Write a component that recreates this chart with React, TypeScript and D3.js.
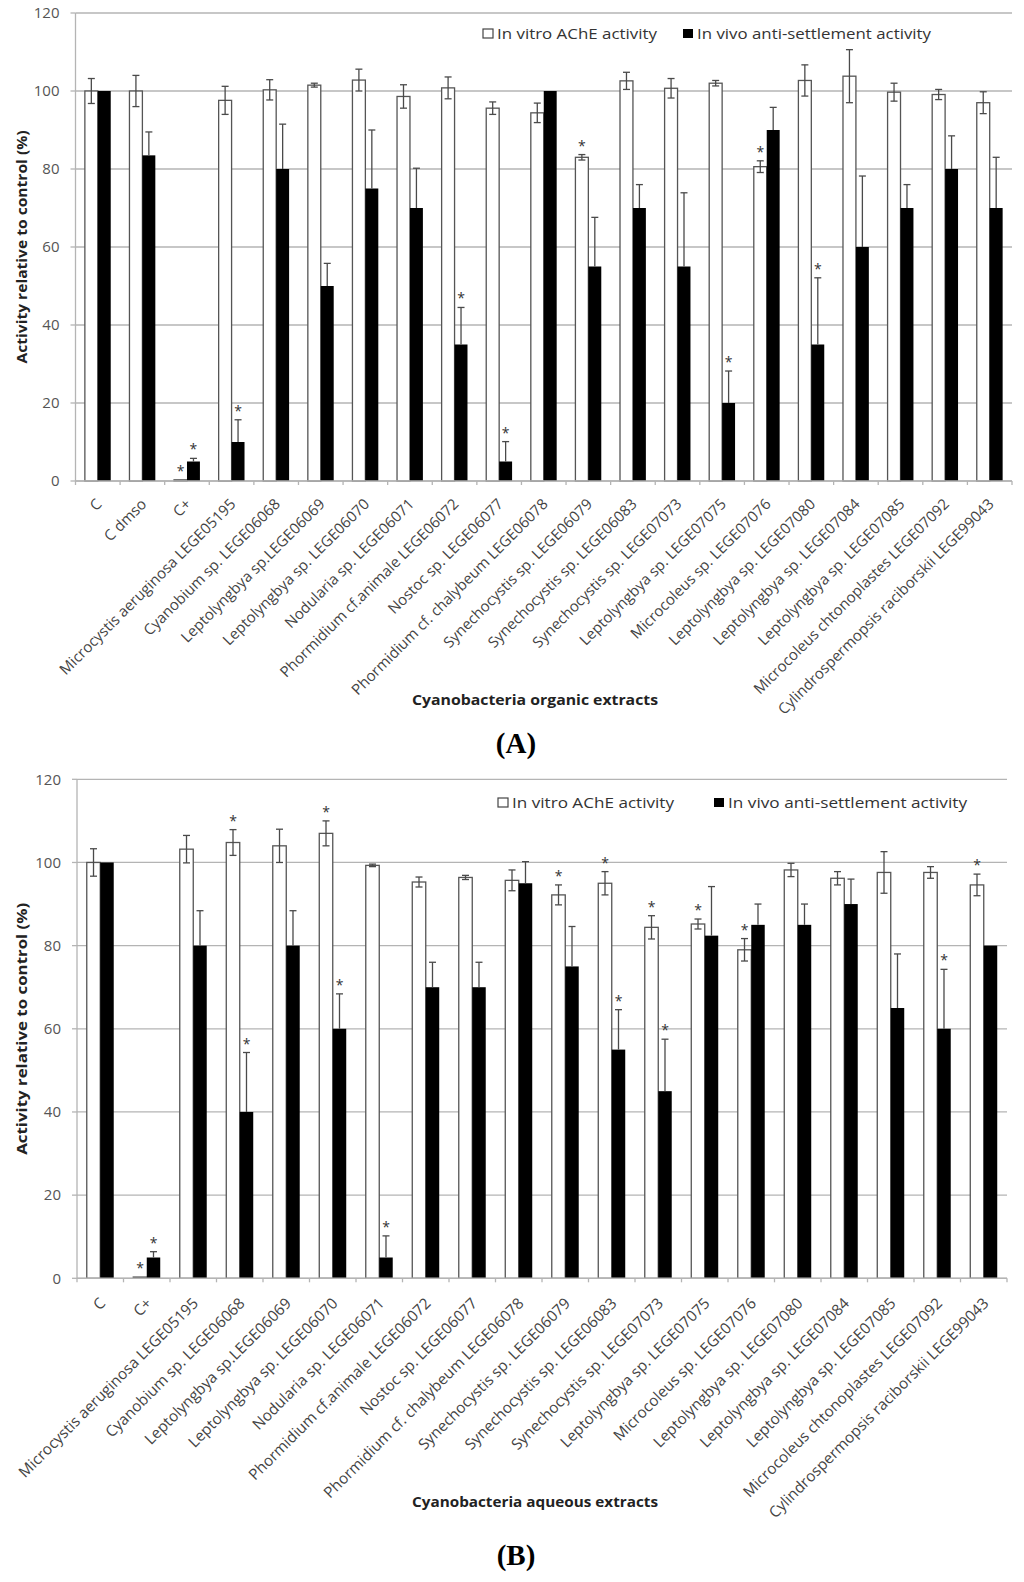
import React from "react";
import * as d3 from "d3";

// ---------- Data: panel A (organic extracts) ----------
const categoriesA = [
  "C", "C dmso", "C+",
  "Microcystis aeruginosa LEGE05195", "Cyanobium sp. LEGE06068", "Leptolyngbya sp.LEGE06069",
  "Leptolyngbya sp. LEGE06070", "Nodularia sp. LEGE06071", "Phormidium cf.animale LEGE06072",
  "Nostoc sp. LEGE06077", "Phormidium cf. chalybeum LEGE06078", "Synechocystis sp. LEGE06079",
  "Synechocystis sp. LEGE06083", "Synechocystis sp. LEGE07073", "Leptolyngbya sp. LEGE07075",
  "Microcoleus sp. LEGE07076", "Leptolyngbya sp. LEGE07080", "Leptolyngbya sp. LEGE07084",
  "Leptolyngbya sp. LEGE07085", "Microcoleus chtonoplastes LEGE07092", "Cylindrospermopsis raciborskii LEGE99043",
];
const vitroA = [100, 100, 0.3, 97.6, 100.3, 101.5, 102.8, 98.6, 100.8, 95.6, 94.4, 83, 102.6, 100.7, 102, 80.6, 102.7, 103.8, 99.7, 99.1, 97];
const vitroErrA = [3.2, 4, 0, 3.6, 2.6, 0.5, 2.8, 3.0, 2.8, 1.6, 2.5, 0.7, 2.2, 2.5, 0.7, 1.5, 4, 6.8, 2.3, 1.3, 2.8];
const vivoA = [100, 83.5, 5, 10, 80, 50, 75, 70, 35, 5, 100, 55, 70, 55, 20, 90, 35, 60, 70, 80, 70];
const vivoErrA = [0, 6, 0.8, 5.7, 11.5, 5.8, 15, 10.2, 9.5, 5.1, 0, 12.6, 6, 18.9, 8.2, 5.8, 17.1, 18.2, 6, 8.5, 13];
const sigVitroA = [2, 11, 15];
const sigVivoA = [2, 3, 8, 9, 14, 16];

// ---------- Data: panel B (aqueous extracts) ----------
const categoriesB = [
  "C", "C+",
  "Microcystis aeruginosa LEGE05195", "Cyanobium sp. LEGE06068", "Leptolyngbya sp.LEGE06069",
  "Leptolyngbya sp. LEGE06070", "Nodularia sp. LEGE06071", "Phormidium cf.animale LEGE06072",
  "Nostoc sp. LEGE06077", "Phormidium cf. chalybeum LEGE06078", "Synechocystis sp. LEGE06079",
  "Synechocystis sp. LEGE06083", "Synechocystis sp. LEGE07073", "Leptolyngbya sp. LEGE07075",
  "Microcoleus sp. LEGE07076", "Leptolyngbya sp. LEGE07080", "Leptolyngbya sp. LEGE07084",
  "Leptolyngbya sp. LEGE07085", "Microcoleus chtonoplastes LEGE07092", "Cylindrospermopsis raciborskii LEGE99043",
];
const vitroB = [100, 0.3, 103.2, 104.8, 104, 107, 99.3, 95.3, 96.4, 95.7, 92.2, 95, 84.4, 85.2, 79, 98.2, 96.2, 97.6, 97.6, 94.6];
const vitroErrB = [3.3, 0, 3.3, 3.1, 4, 3, 0.3, 1.2, 0.5, 2.5, 2.4, 2.8, 2.8, 1.2, 2.7, 1.6, 1.6, 5, 1.4, 2.6];
const vivoB = [100, 5, 80, 40, 80, 60, 5, 70, 70, 95, 75, 55, 45, 82.4, 85, 85, 90, 65, 60, 80];
const vivoErrB = [0, 1.4, 8.4, 14.3, 8.4, 8.4, 5.2, 6, 6, 5.2, 9.6, 9.6, 12.5, 11.8, 5, 5, 6, 13, 14.3, 0];
const sigVitroB = [1, 3, 5, 10, 11, 12, 13, 14, 19];
const sigVivoB = [1, 3, 5, 6, 11, 12, 18];

const yTicks = [0, 20, 40, 60, 80, 100, 120];
const seriesKeys = ["vitro", "vivo"];
const legendLabels = ["In vitro AChE activity", "In vivo anti-settlement activity"];

const FONT = "'Open Sans', 'DejaVu Sans', sans-serif";
const GRID = "#b4b4b4";
const ERR = "#4a4a4a";

type PanelProps = {
  cats: string[];
  vitro: number[];
  vitroErr: number[];
  vivo: number[];
  vivoErr: number[];
  sigVitro: number[];
  sigVivo: number[];
  x0: number;
  x1: number;
  y0: number;
  yTop: number;
  labelFont: number;
  labelDx: number;
  labelDy: number;
  xTitle: string;
  xTitleY: number;
  yTitleLen: number;
  panelLabel: string;
  panelLabelY: number;
  legendY: number;
  legendX: number[];
  legendLen: number[];
};

function Panel(p: PanelProps) {
  const y = d3.scaleLinear().domain([0, 120]).range([p.y0, p.yTop]);
  const x = d3.scaleBand<string>().domain(p.cats).range([p.x0, p.x1]).paddingInner(0.42).paddingOuter(0.21);
  const xs = d3.scaleBand<string>().domain(seriesKeys).range([0, x.bandwidth()]);
  const step = x.step();
  const bw = xs.bandwidth();
  const cap = 3.5;
  const yMid = (p.y0 + p.yTop) / 2;
  const boundaries = d3.range(p.cats.length + 1).map((i) => p.x0 + i * step);

  const errBar = (cx: number, v: number, e: number, both: boolean, key: string) => {
    if (e <= 0) return null;
    const yt = y(v + e);
    const yb = both ? y(v - e) : y(v);
    return (
      <g key={key} stroke={ERR} strokeWidth={1.3}>
        <line x1={cx} x2={cx} y1={yt} y2={yb} />
        <line x1={cx - cap} x2={cx + cap} y1={yt} y2={yt} />
        {both && <line x1={cx - cap} x2={cx + cap} y1={yb} y2={yb} />}
      </g>
    );
  };

  return (
    <g>
      {yTicks.map((t) => (
        <line key={"g" + t} x1={p.x0} x2={p.x1} y1={y(t)} y2={y(t)} stroke={GRID} strokeWidth={1.3} />
      ))}
      <line x1={p.x0} x2={p.x0} y1={p.y0} y2={p.yTop} stroke={GRID} strokeWidth={1.3} />
      {yTicks.map((t) => (
        <g key={"yt" + t}>
          <line x1={p.x0 - 5} x2={p.x0} y1={y(t)} y2={y(t)} stroke={GRID} strokeWidth={1.3} />
          <text x={p.x0 - 16} y={y(t)} dy="0.35em" textAnchor="end" fontSize={15} fill="#555" fontFamily={FONT}>
            {t}
          </text>
        </g>
      ))}
      {boundaries.map((bx, i) => (
        <line key={"xt" + i} x1={bx} x2={bx} y1={p.y0} y2={p.y0 + 4} stroke={GRID} strokeWidth={1.3} />
      ))}
      {p.cats.map((c, i) => {
        const xv = (x(c) as number) + (xs("vitro") as number);
        const xb = (x(c) as number) + (xs("vivo") as number);
        return (
          <g key={"b" + i}>
            <rect x={xv} y={y(p.vitro[i])} width={bw} height={p.y0 - y(p.vitro[i])} fill="#fff" stroke="#555" strokeWidth={1.3} />
            <rect x={xb} y={y(p.vivo[i])} width={bw} height={p.y0 - y(p.vivo[i])} fill="#000" />
            {errBar(xv + bw / 2, p.vitro[i], p.vitroErr[i], true, "ev" + i)}
            {errBar(xb + bw / 2, p.vivo[i], p.vivoErr[i], false, "eb" + i)}
            {p.sigVitro.includes(i) && (
              <text x={xv + bw / 2} y={y(p.vitro[i] + p.vitroErr[i]) - 4} textAnchor="middle" fontSize={14} fill="#333" fontFamily={FONT}>*</text>
            )}
            {p.sigVivo.includes(i) && (
              <text x={xb + bw / 2} y={y(p.vivo[i] + p.vivoErr[i]) - 4} textAnchor="middle" fontSize={14} fill="#333" fontFamily={FONT}>*</text>
            )}
          </g>
        );
      })}
      <line x1={p.x0} x2={p.x1} y1={p.y0} y2={p.y0} stroke={GRID} strokeWidth={1.5} />
      {p.cats.map((c, i) => {
        const cx = (x(c) as number) + x.bandwidth() / 2;
        return (
          <text
            key={"l" + i}
            transform={`translate(${cx + p.labelDx},${p.y0 + p.labelDy}) rotate(-45)`}
            textAnchor="end"
            fontSize={p.labelFont}
            fill="#444"
            fontFamily={FONT}
          >
            {c}
          </text>
        );
      })}
      <text
        transform={`translate(27,${yMid}) rotate(-90)`}
        textAnchor="middle"
        fontSize={14}
        fontWeight="bold"
        fill="#222"
        fontFamily={FONT}
        textLength={p.yTitleLen}
        lengthAdjust="spacingAndGlyphs"
      >
        Activity  relative to control  (%)
      </text>
      <text x={535} y={p.xTitleY} textAnchor="middle" fontSize={15} fontWeight="bold" fill="#222" fontFamily={FONT} textLength={246} lengthAdjust="spacingAndGlyphs">
        {p.xTitle}
      </text>
      <rect x={p.legendX[0]} y={p.legendY - 10} width={10} height={9} fill="#fff" stroke="#444" strokeWidth={1.2} />
      <text x={p.legendX[0] + 14} y={p.legendY} fontSize={15} fill="#333" fontFamily={FONT} textLength={p.legendLen[0]} lengthAdjust="spacingAndGlyphs">
        {legendLabels[0]}
      </text>
      <rect x={p.legendX[1]} y={p.legendY - 10} width={10} height={9} fill="#000" />
      <text x={p.legendX[1] + 14} y={p.legendY} fontSize={15} fill="#333" fontFamily={FONT} textLength={p.legendLen[1]} lengthAdjust="spacingAndGlyphs">
        {legendLabels[1]}
      </text>
      <text x={516} y={p.panelLabelY} textAnchor="middle" fontSize={29} fontWeight="bold" fill="#000" fontFamily="'Liberation Serif', 'DejaVu Serif', serif">
        {p.panelLabel}
      </text>
    </g>
  );
}

export default function App() {
  return (
    <svg
      width={1024}
      height={1582}
      viewBox="0 0 1024 1582"
      style={{ position: "absolute", left: 0, top: 0, background: "#fff" }}
      xmlns="http://www.w3.org/2000/svg"
    >
      <rect x={0} y={0} width={1024} height={1582} fill="#fff" />
      <Panel
        cats={categoriesA}
        vitro={vitroA}
        vitroErr={vitroErrA}
        vivo={vivoA}
        vivoErr={vivoErrA}
        sigVitro={sigVitroA}
        sigVivo={sigVivoA}
        x0={75.5}
        x1={1012}
        y0={481}
        yTop={13}
        labelFont={15}
        labelDx={5}
        labelDy={24}
        xTitle="Cyanobacteria organic extracts"
        xTitleY={705}
        yTitleLen={233}
        panelLabel="(A)"
        panelLabelY={753}
        legendY={39}
        legendX={[483, 683]}
        legendLen={[160, 234]}
      />
      <Panel
        cats={categoriesB}
        vitro={vitroB}
        vitroErr={vitroErrB}
        vivo={vivoB}
        vivoErr={vivoErrB}
        sigVitro={sigVitroB}
        sigVivo={sigVivoB}
        x0={77}
        x1={1007}
        y0={1278.3}
        yTop={779.3}
        labelFont={15.3}
        labelDx={6}
        labelDy={26}
        xTitle="Cyanobacteria aqueous extracts"
        xTitleY={1507}
        yTitleLen={252}
        panelLabel="(B)"
        panelLabelY={1565}
        legendY={808}
        legendX={[498, 714]}
        legendLen={[162, 239]}
      />
    </svg>
  );
}
